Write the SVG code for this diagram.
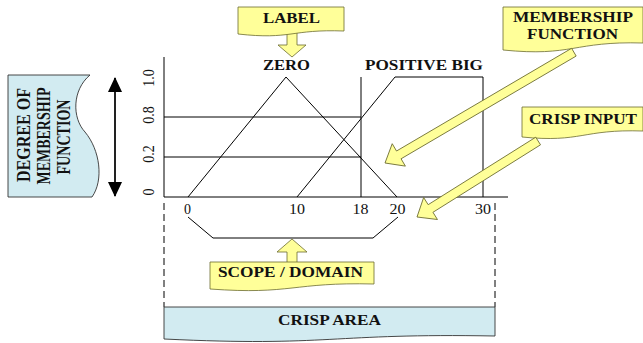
<svg xmlns="http://www.w3.org/2000/svg" width="643" height="343" viewBox="0 0 643 343">
  <style>
    .ln { fill: none; stroke: #000; stroke-width: 1; }
    .dash { fill: none; stroke: #000; stroke-width: 1; stroke-dasharray: 7 4; }
    .note { fill: #FFFF99; stroke: #6B6B2E; stroke-width: 0.8; }
    .area { fill: #D2EBF1; stroke: #333; stroke-width: 0.9; }
    .lbl { font-family: "Liberation Serif", "Times New Roman", serif; font-weight: bold; font-size: 14px; fill: #111; }
    .num { font-family: "Liberation Serif", "Times New Roman", serif; font-size: 14px; fill: #111; }
  </style>
  <defs>
    <marker id="tri" viewBox="0 0 15 14" refX="14" refY="7" markerWidth="15" markerHeight="14" markerUnits="userSpaceOnUse" orient="auto-start-reverse">
      <path d="M0,0 L15,7 L0,14 Z" fill="#000"/>
    </marker>
  </defs>

  <!-- vertical axis caption -->
  <g id="degree-box">
    <path class="area" d="M8,75 H90 C72,90 72,118 85,132 C100,150 104,180 92,197 H8 Z"/>
    <g class="lbl" text-anchor="middle" font-size="15">
      <text transform="translate(30,135) scale(1.3,1) rotate(-90)" textLength="94" lengthAdjust="spacingAndGlyphs">DEGREE OF</text>
      <text transform="translate(50,136) scale(1.3,1) rotate(-90)" textLength="97" lengthAdjust="spacingAndGlyphs">MEMBERSHIP</text>
      <text transform="translate(70,137) scale(1.3,1) rotate(-90)" textLength="75" lengthAdjust="spacingAndGlyphs">FUNCTION</text>
    </g>
  </g>

  <!-- membership scale -->
  <g id="y-scale" class="num" text-anchor="middle">
    <text transform="translate(154,78) scale(1.2,1) rotate(-90)">1.0</text>
    <text transform="translate(154,115) scale(1.2,1) rotate(-90)">0.8</text>
    <text transform="translate(154,154) scale(1.2,1) rotate(-90)">0.2</text>
    <text transform="translate(154,192) scale(1.2,1) rotate(-90)">0</text>
  </g>

  <!-- plot -->
  <g id="chart">
    <line class="ln" x1="164" y1="57" x2="164" y2="197"/>
    <line class="ln" x1="164" y1="197" x2="508" y2="197"/>
    <line class="ln" x1="164" y1="117" x2="361" y2="117"/>
    <line class="ln" x1="164" y1="157" x2="361" y2="157"/>
    <line class="ln" x1="361" y1="77" x2="361" y2="197"/>
    <polyline id="zero-set" class="ln" points="188,197 286,77 397,197"/>
    <polyline id="positive-big-set" class="ln" points="297,197 395,77 483,77 483,197"/>
    <text class="lbl" x="286.5" y="70" text-anchor="middle" textLength="47" lengthAdjust="spacingAndGlyphs">ZERO</text>
    <text class="lbl" x="424" y="70" text-anchor="middle" textLength="118" lengthAdjust="spacingAndGlyphs">POSITIVE BIG</text>
  </g>

  <g id="x-scale" class="num" text-anchor="middle">
    <text x="187.5" y="214">0</text>
    <text x="297" y="214" textLength="16" lengthAdjust="spacingAndGlyphs">10</text>
    <text x="360.5" y="214" textLength="16" lengthAdjust="spacingAndGlyphs">18</text>
    <text x="397.5" y="214" textLength="16" lengthAdjust="spacingAndGlyphs">20</text>
    <text x="483" y="214" textLength="16" lengthAdjust="spacingAndGlyphs">30</text>
  </g>

  <g id="connectors">
    <line x1="115" y1="78" x2="115" y2="196" stroke="#222" stroke-width="2" marker-start="url(#tri)" marker-end="url(#tri)"/>
    <polyline class="ln" points="188,217 213,238 373,238 398,217"/>
    <line class="dash" x1="164" y1="203" x2="164" y2="307"/>
    <line class="dash" x1="495" y1="203" x2="495" y2="307"/>
    <path class="note" d="M287,31 L297,31 L297,45 L306,45 L292,57 L278,45 L287,45 Z"/>
    <path class="note" d="M287,264 L287,252 L277,252 L292,239 L307,252 L297,252 L297,264 Z"/>
  </g>

  <g id="label-note">
    <path class="note" d="M238,7 H344 V31 C291,29 291,40 238,34 Z"/>
    <text class="lbl" x="291.5" y="23" text-anchor="middle" textLength="57" lengthAdjust="spacingAndGlyphs">LABEL</text>
  </g>

  <g id="membership-note">
    <path class="note" d="M503,7 H643 V43 C573,41 573,57 503,50 Z"/>
    <text class="lbl" x="573" y="21.5" text-anchor="middle" textLength="120" lengthAdjust="spacingAndGlyphs">MEMBERSHIP</text>
    <text class="lbl" x="572.5" y="38.5" text-anchor="middle" textLength="91" lengthAdjust="spacingAndGlyphs">FUNCTION</text>
  </g>

  <g id="crisp-input-note">
    <path class="note" d="M522,107 H643 V131 C582,129 582,143 522,137 Z"/>
    <text class="lbl" x="583" y="124" text-anchor="middle" textLength="108" lengthAdjust="spacingAndGlyphs">CRISP INPUT</text>
  </g>

  <g id="scope-note">
    <path class="note" d="M210,262 H374 V284 C292,282 292,295 210,289 Z"/>
    <text class="lbl" x="290.5" y="277" text-anchor="middle" textLength="145" lengthAdjust="spacingAndGlyphs">SCOPE / DOMAIN</text>
  </g>

  <g id="crisp-area">
    <path class="area" d="M164,307 H495 V336 C330,333 330,347 164,339 Z"/>
    <text class="lbl" x="329.5" y="325" text-anchor="middle" textLength="103" lengthAdjust="spacingAndGlyphs">CRISP AREA</text>
  </g>

  <!-- pointer arrows from the notes -->
  <g id="pointers">
    <path class="note" transform="translate(385,163) rotate(149.6)" d="M0,0 L-16,-13 L-16,-4.5 L-219,-4.5 L-219,4.5 L-16,4.5 L-16,13 Z"/>
    <path class="note" transform="translate(417,217) rotate(147.9)" d="M0,0 L-16,-13 L-16,-4.5 L-143,-4.5 L-143,4.5 L-16,4.5 L-16,13 Z"/>
  </g>
</svg>
